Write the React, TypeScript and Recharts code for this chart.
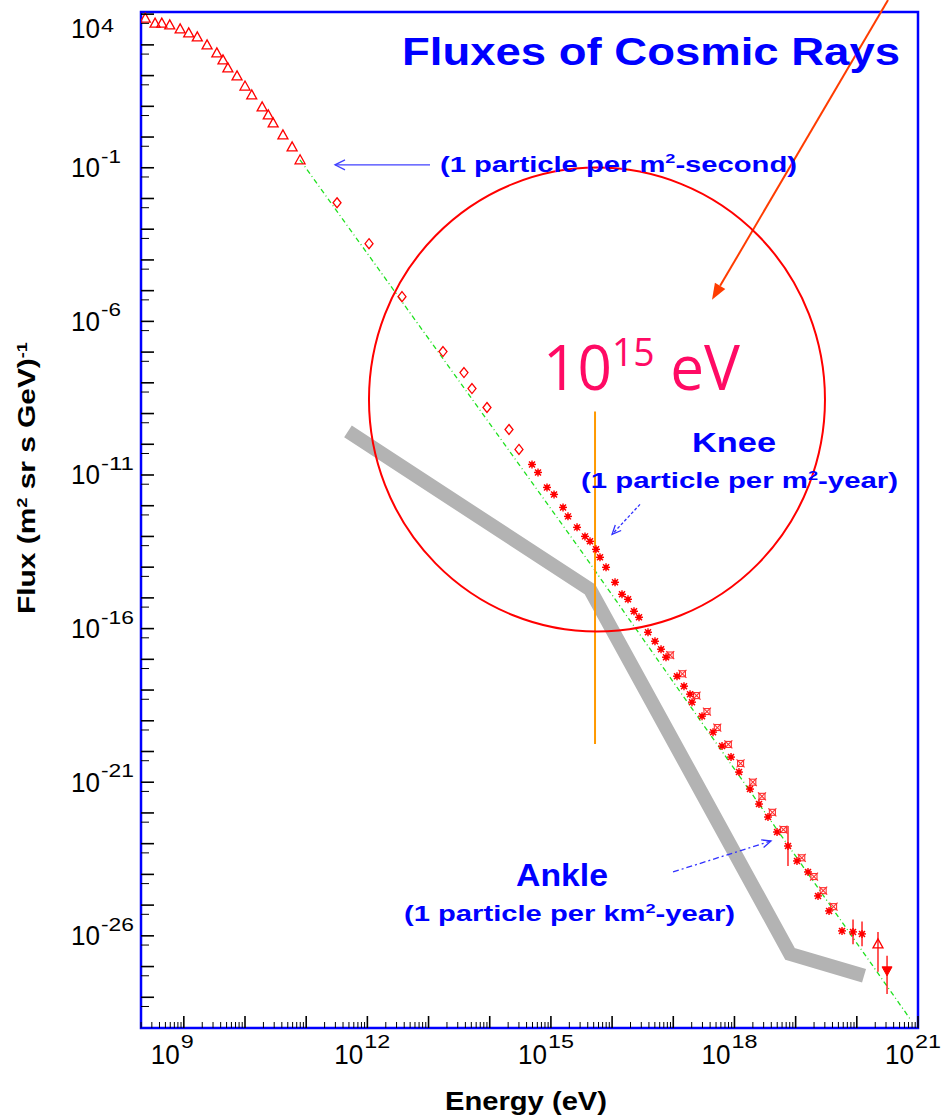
import React from "react";
import {
  ComposedChart,
  XAxis,
  YAxis,
  Scatter,
  Line,
  ErrorBar,
  ReferenceLine,
  ReferenceDot,
  ReferenceArea,
} from "recharts";

// all values are log10: energy in eV, flux in (m2 sr s GeV)^-1
const triangleEnergy = [8.37, 8.53, 8.64, 8.77, 8.94, 9.08, 9.22, 9.38, 9.54, 9.64, 9.72, 9.87, 10.0, 10.11, 10.28, 10.38, 10.46, 10.62, 10.77, 10.9];
const triangleFlux = [3.87, 3.71, 3.71, 3.65, 3.52, 3.39, 3.26, 3.0, 2.74, 2.51, 2.25, 1.99, 1.66, 1.37, 0.98, 0.72, 0.46, 0.07, -0.32, -0.74];

const diamondEnergy = [11.504, 12.027, 12.566, 13.236, 13.579, 13.71, 13.955, 14.315, 14.478];
const diamondFlux = [-2.139, -3.472, -5.195, -6.983, -7.666, -8.186, -8.804, -9.519, -10.169];

const starEnergy = [
  14.691, 14.789, 14.936, 15.051, 15.198, 15.279, 15.427, 15.557, 15.639, 15.737,
  15.802, 15.901, 16.048, 16.162, 16.26, 16.358, 16.44, 16.587, 16.701, 16.8,
  16.881, 17.061, 17.175, 17.274, 17.306, 17.47, 17.65, 17.797, 17.944, 18.074,
  18.254, 18.401, 18.548, 18.696, 19.022, 19.202, 19.366, 19.546, 19.758,
];
const starFlux = [
  -10.657, -10.917, -11.405, -11.632, -12.055, -12.347, -12.705, -12.998, -13.16, -13.42,
  -13.68, -14.005, -14.493, -14.883, -15.046, -15.436, -15.631, -16.119, -16.411, -16.671,
  -16.931, -17.549, -17.874, -18.134, -18.394, -18.849, -19.37, -19.825, -20.182, -20.67,
  -21.223, -21.71, -22.133, -22.621, -23.563, -23.921, -24.701, -25.189, -25.839,
];

// second experiment in the dense 1e17-1e19.6 band
const crossEnergy = [16.95, 17.15, 17.38, 17.55, 17.72, 17.9, 18.1, 18.3, 18.45, 18.62, 18.8, 19.1, 19.3, 19.45, 19.62];
const crossFlux = [-16.86, -17.47, -18.18, -18.7, -19.22, -19.77, -20.39, -21.0, -21.46, -21.98, -22.54, -23.46, -24.07, -24.53, -25.05];

// highest energies, with error bars
const uheEnergy = [18.875, 19.938, 20.085, 20.346, 20.494];
const uheFlux = [-23.076, -25.872, -25.937, -26.262, -27.14];
const uheErrLow = [0.65, 0.4, 0.4, 0.91, 0.75];
const uheErrHigh = [0.65, 0.4, 0.4, 0.39, 0.49];
const uheMark = ["star", "star", "star", "up", "down"];

// green power-law guide
const fitEnergy = [10.899, 15.476, 20.869];
const fitFlux = [-0.741, -13.42, -28.7];

// grey hand-drawn polyline
const sketchEnergy = [11.683, 15.639, 18.908, 20.118];
const sketchFlux = [-9.584, -14.721, -26.587, -27.302];

const xLabelExps = [9, 12, 15, 18, 21];
const yLabelExps = [4, -1, -6, -11, -16, -21, -26];

const X_MIN = 8.3;
const X_MAX = 21;
const Y_MIN = -29;
const Y_MAX = 4.07;

const FONT = '"Liberation Sans", Arial, Helvetica, sans-serif';
const BLUE = "#0000ff";
const RED = "#ff0000";

const zip = (xs: number[], ys: number[]) => xs.map((x, i) => ({ x, y: ys[i] }));

const triangles = zip(triangleEnergy, triangleFlux);
const diamonds = zip(diamondEnergy, diamondFlux);
const stars = zip(starEnergy, starFlux);
const crosses = zip(crossEnergy, crossFlux);
const uhe = uheEnergy.map((x, i) => ({ x, y: uheFlux[i], err: [uheErrLow[i], uheErrHigh[i]], mark: uheMark[i] }));
const fit = zip(fitEnergy, fitFlux);
const sketch = zip(sketchEnergy, sketchFlux);

const isInt = (v: number) => Math.abs(v - Math.round(v)) < 1e-6;

const xTicks: number[] = [];
for (let n = 8; n <= 21; n++) {
  for (let k = 1; k <= 9; k++) {
    const v = n + Math.log10(k);
    if (v > X_MIN && v <= X_MAX + 1e-9) xTicks.push(v);
  }
}
const yTicks: number[] = [];
for (let n = -28; n <= 4; n++) {
  yTicks.push(n);
  yTicks.push(n - 0.3);
}

// width of a superscript exponent string, digits are stretched like the original
const supWidth = (s: string) => s.split("").reduce((w, c) => w + (c === "-" ? 7 : 13), 0);

const XTick = (props: any) => {
  const { x, y, payload } = props;
  const v = payload.value;
  const major = isInt(v);
  const len = major ? 12 : 6;
  const showLabel = major && xLabelExps.includes(Math.round(v));
  const sup = String(Math.round(v));
  return (
    <g>
      <line x1={x} x2={x} y1={y} y2={y - len} stroke="#000" strokeWidth={major ? 1.6 : 1} />
      {showLabel && (
        <g fontFamily={FONT} fill="#000">
          <text x={x - 33} y={y + 36} fontSize={27} textLength={29} lengthAdjust="spacingAndGlyphs">10</text>
          <text x={x - 3} y={y + 20} fontSize={18} textLength={supWidth(sup)} lengthAdjust="spacingAndGlyphs">{sup}</text>
        </g>
      )}
    </g>
  );
};

const YTick = (props: any) => {
  const { x, y, payload } = props;
  const v = payload.value;
  const major = isInt(v);
  const len = major ? 13 : 8;
  const showLabel = major && yLabelExps.includes(Math.round(v));
  const sup = String(Math.round(v));
  return (
    <g>
      <line x1={x} x2={x + len} y1={y} y2={y} stroke="#000" strokeWidth={major ? 1.6 : 1} />
      {showLabel && (
        <g fontFamily={FONT} fill="#000">
          <text x={x - 70} y={Math.max(y + 9.5, 38)} fontSize={27} textLength={29} lengthAdjust="spacingAndGlyphs">10</text>
          <text x={x - 40} y={Math.max(y - 5, 32)} fontSize={18} textLength={supWidth(sup)} lengthAdjust="spacingAndGlyphs">{sup}</text>
        </g>
      )}
    </g>
  );
};

const Triangle = ({ cx, cy }: any) => (
  <polygon points={`${cx},${cy - 5} ${cx - 5},${cy + 4} ${cx + 5},${cy + 4}`} fill="none" stroke={RED} strokeWidth={1.3} />
);
const Diamond = ({ cx, cy }: any) => (
  <polygon points={`${cx},${cy - 5} ${cx + 4},${cy} ${cx},${cy + 5} ${cx - 4},${cy}`} fill="none" stroke={RED} strokeWidth={1.3} />
);
const Star = ({ cx, cy }: any) => (
  <g stroke={RED} strokeWidth={1.4}>
    <line x1={cx - 4} x2={cx + 4} y1={cy} y2={cy} />
    <line x1={cx} x2={cx} y1={cy - 4} y2={cy + 4} />
    <line x1={cx - 3} x2={cx + 3} y1={cy - 3} y2={cy + 3} />
    <line x1={cx - 3} x2={cx + 3} y1={cy + 3} y2={cy - 3} />
    <rect x={cx - 1.5} y={cy - 1.5} width={3} height={3} fill={RED} />
  </g>
);
const Cross = ({ cx, cy }: any) => (
  <g stroke="#ff3030" strokeWidth={1.1} fill="none">
    <line x1={cx - 4} x2={cx + 4} y1={cy - 4} y2={cy + 4} />
    <line x1={cx - 4} x2={cx + 4} y1={cy + 4} y2={cy - 4} />
    <rect x={cx - 3} y={cy - 3} width={6} height={6} />
  </g>
);
const UheMark = (p: any) => {
  const { cx, cy, payload } = p;
  if (payload.mark === "up") return <Triangle cx={cx} cy={cy} />;
  if (payload.mark === "down")
    return <polygon points={`${cx - 5},${cy - 4} ${cx + 5},${cy - 4} ${cx},${cy + 5}`} fill={RED} stroke={RED} />;
  return <Star cx={cx} cy={cy} />;
};

const makeArrow =
  (color: string, width: number, dash: string | undefined, filled: boolean, hl: number, hw: number) =>
  (p: any) => {
    const { x1, y1, x2, y2 } = p;
    const a = Math.atan2(y2 - y1, x2 - x1);
    const bx = x2 - hl * Math.cos(a);
    const by = y2 - hl * Math.sin(a);
    const px = -Math.sin(a) * hw;
    const py = Math.cos(a) * hw;
    const pts = `${bx + px},${by + py} ${x2},${y2} ${bx - px},${by - py}`;
    return (
      <g>
        <line x1={x1} y1={y1} x2={filled ? bx : x2} y2={filled ? by : y2} stroke={color} strokeWidth={width} strokeDasharray={dash} />
        {filled ? (
          <polygon points={pts} fill={color} />
        ) : (
          <polyline points={pts} fill="none" stroke={color} strokeWidth={width} />
        )}
      </g>
    );
  };

type Part = [string, boolean];
type Note = { e: number; f: number; parts: Part[]; size: number; len: number; bold: boolean; color: string; family?: string };

const notes: Note[] = [
  { e: 12.566, f: 2.347, parts: [["Fluxes of Cosmic Rays", false]], size: 39, len: 498, bold: true, color: BLUE },
  { e: 13.187, f: -1.132, parts: [["(1 particle per m", false], ["2", true], ["-second)", false]], size: 22, len: 357, bold: true, color: BLUE },
  { e: 14.871, f: -8.219, parts: [["10", false], ["15", true], [" eV", false]], size: 62, len: 197, bold: false, color: "#ff0a64", family: '"Open Sans", "Noto Sans", sans-serif' },
  { e: 17.306, f: -10.267, parts: [["Knee", false]], size: 28, len: 84, bold: true, color: BLUE },
  { e: 15.492, f: -11.437, parts: [["(1 particle per m", false], ["2", true], ["-year)", false]], size: 22, len: 317, bold: true, color: BLUE },
  { e: 14.43, f: -24.376, parts: [["Ankle", false]], size: 32, len: 92, bold: true, color: BLUE },
  { e: 12.599, f: -25.514, parts: [["(1 particle per km", false], ["2", true], ["-year)", false]], size: 22, len: 331, bold: true, color: BLUE },
];

const renderParts = (parts: Part[], size: number) => {
  const out: React.ReactNode[] = [];
  let raised = false;
  parts.forEach(([t, sup], i) => {
    const shift = size * 0.38;
    let dy = 0;
    if (sup && !raised) { dy = -shift; raised = true; }
    else if (!sup && raised) { dy = shift; raised = false; }
    out.push(
      <tspan key={i} dy={dy} fontSize={sup ? size * 0.62 : size}>{t}</tspan>
    );
  });
  return out;
};

const noteShape = (n: Note) => (p: any) => (
  <text
    x={p.cx}
    y={p.cy}
    fill={n.color}
    fontFamily={n.family || FONT}
    fontWeight={n.bold ? "bold" : "normal"}
    fontSize={n.size}
    textLength={n.len}
    lengthAdjust="spacingAndGlyphs"
  >
    {renderParts(n.parts, n.size)}
  </text>
);

const EllipseShape = (p: any) => (
  <ellipse cx={p.cx} cy={p.cy} rx={228} ry={232} fill="none" stroke={RED} strokeWidth={2} />
);

const XTitle = (p: any) => {
  const vb = p.viewBox || { x: 141, y: 1028 };
  return (
    <text x={vb.x + 304} y={vb.y + 82} fontFamily={FONT} fontWeight="bold" fontSize={25} fill="#000" textLength={162} lengthAdjust="spacingAndGlyphs">
      Energy (eV)
    </text>
  );
};

const YTitle = (p: any) => {
  const vb = p.viewBox || { x: 0, y: 12 };
  const cx = vb.x + 35;
  const cy = vb.y + 466;
  return (
    <text
      x={cx}
      y={cy}
      transform={`rotate(-90 ${cx} ${cy})`}
      textAnchor="middle"
      fontFamily={FONT}
      fontWeight="bold"
      fontSize={23}
      fill="#000"
      textLength={272}
      lengthAdjust="spacingAndGlyphs"
    >
      <tspan>Flux (m</tspan>
      <tspan dy={-8} fontSize={14}>2</tspan>
      <tspan dy={8}> sr s GeV)</tspan>
      <tspan dy={-8} fontSize={14}>-1</tspan>
    </text>
  );
};

export default function App() {
  return (
    <div style={{ position: "absolute", left: 0, top: 0, width: 948, height: 1120, background: "#fff" }}>
      <ComposedChart width={948} height={1120} margin={{ top: 12, right: 30, bottom: 0, left: 0 }}>
        <XAxis
          type="number"
          dataKey="x"
          domain={[X_MIN, X_MAX]}
          allowDataOverflow
          ticks={xTicks}
          interval={0}
          tickSize={0}
          tickMargin={0}
          tickLine={false}
          axisLine={false}
          tick={XTick}
          height={92}
          label={XTitle}
        />
        <YAxis
          type="number"
          dataKey="y"
          domain={[Y_MIN, Y_MAX]}
          allowDataOverflow
          ticks={yTicks}
          interval={0}
          tickSize={0}
          tickMargin={0}
          tickLine={false}
          axisLine={false}
          tick={YTick}
          width={141}
          label={YTitle}
        />

        <Line data={sketch} dataKey="y" type="linear" stroke="#b3b3b3" strokeWidth={14} strokeLinejoin="miter" dot={false} isAnimationActive={false} />
        <Line data={fit} dataKey="y" type="linear" stroke="#1fe01f" strokeWidth={1.3} strokeDasharray="5 3 1 3" dot={false} isAnimationActive={false} />

        <Scatter data={triangles} shape={Triangle} isAnimationActive={false} />
        <Scatter data={diamonds} shape={Diamond} isAnimationActive={false} />
        <Scatter data={crosses} shape={Cross} isAnimationActive={false} />
        <Scatter data={stars} shape={Star} isAnimationActive={false} />
        <Scatter data={uhe} shape={UheMark} isAnimationActive={false}>
          <ErrorBar dataKey="err" direction="y" width={0} stroke={RED} strokeWidth={1.3} />
        </Scatter>

        <ReferenceLine segment={[{ x: 15.721, y: -8.934 }, { x: 15.721, y: -19.76 }]} stroke="#ff9900" strokeWidth={2} ifOverflow="visible" />
        <ReferenceDot x={15.753} y={-8.544} r={1} shape={EllipseShape} ifOverflow="visible" />

        <ReferenceLine segment={[{ x: 20.51, y: 4.46 }, { x: 17.633, y: -5.293 }]} shape={makeArrow("#ff3c00", 2, undefined, true, 16, 6)} ifOverflow="visible" />
        <ReferenceLine segment={[{ x: 13.024, y: -0.904 }, { x: 11.471, y: -0.904 }]} shape={makeArrow("#4040ff", 1.3, undefined, false, 10, 5)} ifOverflow="visible" />
        <ReferenceLine segment={[{ x: 16.456, y: -11.957 }, { x: 16.0, y: -12.933 }]} shape={makeArrow("#3030ff", 1.3, "3 2", false, 9, 4)} ifOverflow="visible" />
        <ReferenceLine segment={[{ x: 16.996, y: -23.921 }, { x: 18.597, y: -22.913 }]} shape={makeArrow("#3030ff", 1.3, "6 3 2 3", false, 9, 4)} ifOverflow="visible" />

        {notes.map((n, i) => (
          <ReferenceDot key={i} x={n.e} y={n.f} r={1} shape={noteShape(n)} ifOverflow="visible" />
        ))}

        <ReferenceArea x1={X_MIN} x2={X_MAX} y1={Y_MIN} y2={Y_MAX} fill="none" fillOpacity={0} stroke={BLUE} strokeWidth={2.5} ifOverflow="visible" />
      </ComposedChart>
    </div>
  );
}
